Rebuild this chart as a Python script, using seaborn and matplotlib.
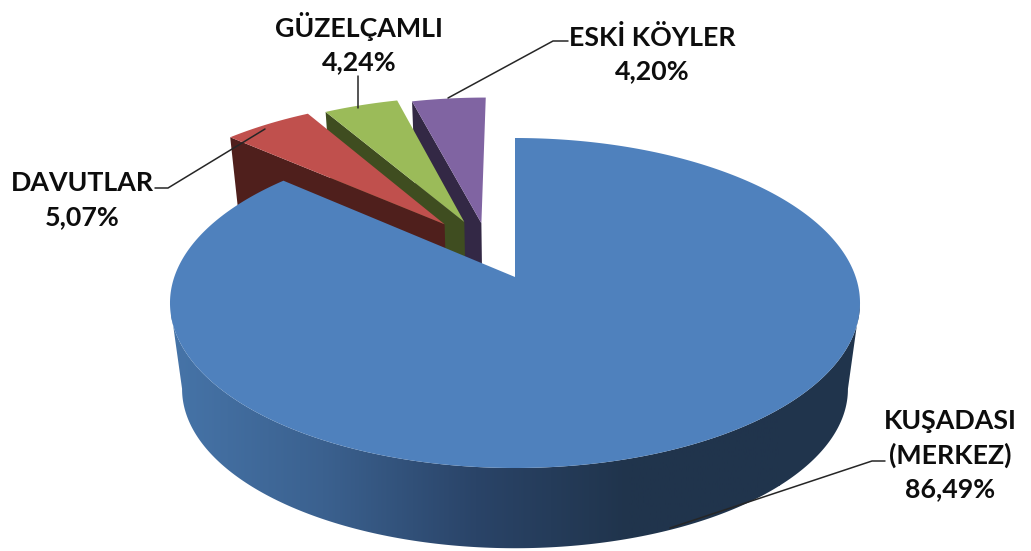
import numpy as np
import seaborn as sns
import matplotlib
matplotlib.use("Agg")
import matplotlib.pyplot as plt
from matplotlib.patches import Polygon

# data
categories = ["KUŞADASI\n(MERKEZ)", "DAVUTLAR", "GÜZELÇAMLI", "ESKİ KÖYLER"]
values = [86.49, 5.07, 4.24, 4.20]

# styles
top_colors = sns.color_palette(["#4F81BD", "#C0504D", "#9BBB59", "#8064A2"])
side_colors = sns.color_palette(["#20344C", "#4F1F1C", "#3F4D20", "#332845"])
wall_cmap = sns.blend_palette(["#4674A8", "#3B618F", "#2A4468", "#20344C", "#20344C"], as_cmap=True)
explode = [0.197, 0.215, 0.197, 0.175]

sns.set_theme(style="white")
plt.rcParams["font.family"] = ["Lato", "DejaVu Sans"]

# perspective of the disc, fitted on the picture
cx, cy = 515, 303
k, a, b, c = 340.7, 165, 26, 0.1576
depth, shrink = 86, 0.035

def project(x, y, z=0):
	d = 1 + c * y
	s = 1 - shrink * z
	return cx + s * k * x / d, cy + depth * z - s * (a * y + b) / d

# slice angles, clockwise from 12 o'clock
ends = np.cumsum(values) / sum(values) * 2 * np.pi
starts = np.r_[0, ends[:-1]]
mids = (starts + ends) / 2
off_x = [e * np.sin(m) - explode[0] * np.sin(mids[0]) for e, m in zip(explode, mids)]
off_y = [e * np.cos(m) - explode[0] * np.cos(mids[0]) for e, m in zip(explode, mids)]

fig = plt.figure(figsize=(10.31, 5.51), dpi=100)
ax = fig.add_axes([0, 0, 1, 1])

# small slices, back to front
for i in [3, 2, 1]:
	t = np.linspace(starts[i], ends[i], 40)
	x = off_x[i] + np.sin(t)
	y = off_y[i] + np.cos(t)
	ax_, ay_ = project(off_x[i], off_y[i])
	tx, ty = project(x, y)
	ax.fill(np.r_[ax_, tx], np.r_[ay_, ty], color=top_colors[i], lw=0, zorder=3 + 2 * (3 - i) + 1)
	bx_, by_ = project(off_x[i], off_y[i], 1)
	ox, oy = project(x[0], y[0], 1)
	ax.fill([ax_, tx[0], ox, bx_], [ay_, ty[0], oy, by_], color=side_colors[i], lw=0, zorder=3 + 2 * (3 - i))

# big slice: wall with gradient, then top
t = np.linspace(np.radians(99), np.radians(261), 200)
wx, wy = project(np.sin(t), np.cos(t))
bx, by = project(np.sin(t), np.cos(t), 1)
wall = Polygon(np.c_[np.r_[wx, bx[::-1]], np.r_[wy, by[::-1]]], closed=True, fc="none", ec="none", transform=ax.transData)
ax.add_patch(wall)
im = ax.imshow(np.linspace(0, 1, 256).reshape(1, -1), extent=(171, 780, 551, 0), cmap=wall_cmap, aspect="auto", zorder=10)
im2 = ax.imshow(np.ones((1, 2)), extent=(779, 870, 551, 0), cmap=wall_cmap, vmin=0, vmax=1, aspect="auto", zorder=10)
im.set_clip_path(wall)
im2.set_clip_path(wall)

t = np.linspace(starts[0], ends[0], 400)
tx, ty = project(np.sin(t), np.cos(t))
ax0, ay0 = project(0, 0)
ax.fill(np.r_[ax0, tx], np.r_[ay0, ty], color=top_colors[0], lw=0, zorder=11)

# leader lines
leaders = [([670, 872, 885], [528, 461, 461]),
	([155, 168, 265], [188, 188, 129]),
	([358, 358], [76, 108]),
	([448, 553, 568], [98, 41, 41])]
for lx, ly in leaders:
	ax.plot(lx, ly, color="#262626", lw=1.1, zorder=12)

# labels
label_pos = [(950, 455), (82, 200), (359, 43), (652, 54)]
for name, v, (px, py) in zip(categories, values, label_pos):
	txt = name + "\n" + f"{v:.2f}".replace(".", ",") + "%"
	ax.text(px, py, txt, ha="center", va="center", fontsize=19.3, fontweight="bold",
		color="#0d0d0d", linespacing=1.47, zorder=13)

ax.set_xlim(0, 1031)
ax.set_ylim(551, 0)
ax.axis("off")
fig.savefig("out.png", dpi=100, facecolor="white")
